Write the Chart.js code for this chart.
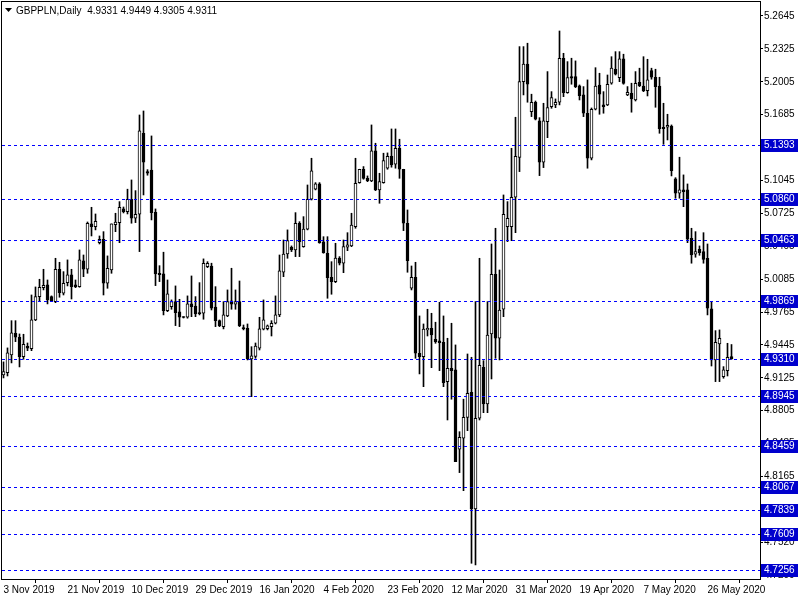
<!DOCTYPE html>
<html>
<head>
<meta charset="utf-8">
<script src="https://cdn.jsdelivr.net/npm/chart.js"></script>
<style>
  html, body { margin: 0; padding: 0; background: #fff; }
</style>
</head>
<body>
<canvas id="myChart" width="800" height="600"></canvas>
<script>
// GBPPLN daily candles, one entry per bar (index 0 = 3 Nov 2019)
var openP = [
  4.9153,4.9176,4.9348,4.9559,4.9520,4.9331,4.9432,4.9409,4.9688,4.9915,
  5.0002,5.0029,4.9915,4.9866,5.0181,4.9948,5.0051,5.0126,5.0029,5.0012,
  5.0262,5.0181,5.0622,5.0596,5.0440,5.0473,5.0045,5.0174,5.0615,5.0635,
  5.0768,5.0742,5.0862,5.0677,5.0716,5.1504,5.1131,5.1147,5.0736,5.0142,
  5.0136,4.9779,4.9817,4.9866,4.9766,4.9714,4.9714,4.9844,4.9824,4.9753,
  4.9753,5.0207,5.0213,4.9812,4.9681,4.9623,4.9727,4.9873,4.9841,4.9866,
  4.9613,4.9607,4.9309,4.9333,4.9413,4.9598,4.9603,4.9623,4.9656,4.9737,
  5.0152,5.0330,5.0395,5.0369,5.0629,5.0401,5.0570,5.0862,5.0960,5.1011,
  5.0447,5.0337,5.0103,5.0061,5.0291,5.0240,5.0395,5.0408,5.0596,5.1024,
  5.1154,5.1066,5.1040,5.1332,5.0953,5.1024,5.1164,5.1283,5.1203,5.1358,
  5.1154,5.0629,4.9996,5.0103,4.9364,4.9331,4.9591,4.9607,4.9500,4.9484,
  4.9471,4.9088,4.9218,4.9202,4.8430,4.8537,4.8741,4.8985,4.7849,4.8732,
  4.9228,4.8871,4.9552,5.0133,4.9510,4.9792,5.0596,5.0596,5.0882,5.1269,
  5.2006,5.2176,5.1714,5.1806,5.1624,5.1222,5.1617,5.1763,5.1780,5.1806,
  5.2234,5.1899,5.2055,5.2055,5.1965,5.1877,5.1699,5.1261,5.1738,5.1974,
  5.1780,5.1780,5.1991,5.2127,5.2045,5.2227,5.1877,5.1893,5.1828,5.2000,
  5.1964,5.1918,5.2113,5.2049,5.1964,5.1563,5.1563,5.1575,5.1060,5.0921,
  5.0953,5.0953,5.0483,5.0327,5.0376,5.0353,5.0288,4.9795,4.9299,4.9455,
  4.9136,4.9195,4.9331
];
var highP = [
  4.9280,4.9416,4.9681,4.9681,4.9552,4.9549,4.9464,4.9931,5.0009,5.0084,
  5.0181,5.0077,4.9922,5.0288,5.0249,5.0158,5.0272,5.0181,5.0077,5.0369,
  5.0320,5.0641,5.0784,5.0719,5.0505,5.0547,5.0311,5.0622,5.0726,5.0839,
  5.0787,5.0960,5.1050,5.0946,5.1682,5.1721,5.1150,5.1478,5.0768,5.0216,
  5.0347,5.0077,4.9883,5.0019,4.9889,4.9720,4.9922,5.0116,4.9915,5.0051,
  5.0282,5.0255,5.0240,5.0012,4.9688,4.9866,4.9980,5.0191,4.9980,5.0067,
  4.9639,4.9649,4.9428,4.9464,4.9714,4.9883,4.9639,4.9681,4.9922,5.0320,
  5.0466,5.0564,5.0408,5.0732,5.0644,5.0693,5.1001,5.1261,5.1024,5.1024,
  5.0498,5.0498,5.0255,5.0434,5.0304,5.0466,5.0537,5.0726,5.1261,5.1154,
  5.1180,5.1089,5.1585,5.1407,5.1115,5.1310,5.1313,5.1546,5.1546,5.1446,
  5.1154,5.0758,5.0213,5.0249,4.9727,4.9649,4.9792,4.9753,4.9666,4.9860,
  4.9727,4.9510,4.9656,4.9445,4.8601,4.8917,4.9357,4.9325,4.9866,5.0288,
  4.9292,4.9866,5.0427,5.0580,5.0174,5.0904,5.0839,5.1358,5.1660,5.2347,
  5.2347,5.2380,5.1884,5.1818,5.1656,5.1796,5.2104,5.1909,5.1838,5.2499,
  5.2282,5.2201,5.2234,5.2208,5.1974,5.1958,5.2023,5.1750,5.2142,5.2088,
  5.1909,5.2071,5.2249,5.2298,5.2298,5.2273,5.1958,5.1991,5.2104,5.2137,
  5.2249,5.2224,5.2137,5.2127,5.2049,5.1796,5.1689,5.1585,5.1072,5.1271,
  5.1099,5.1011,5.0580,5.0547,5.0408,5.0537,5.0427,4.9866,4.9584,4.9591,
  4.9234,4.9461,4.9449
];
var lowP = [
  4.9124,4.9143,4.9270,4.9477,4.9231,4.9306,4.9389,4.9389,4.9681,4.9866,
  4.9980,4.9844,4.9866,4.9856,4.9909,4.9931,5.0019,4.9892,5.0002,5.0006,
  5.0109,5.0142,5.0505,5.0564,5.0427,4.9931,4.9996,5.0142,5.0547,5.0440,
  5.0729,5.0719,5.0629,5.0635,5.0353,5.0904,5.1096,5.0661,5.0022,5.0061,
  4.9737,4.9769,4.9792,4.9633,4.9623,4.9707,4.9705,4.9720,4.9720,4.9737,
  4.9695,5.0197,4.9785,4.9623,4.9623,4.9601,4.9720,4.9792,4.9792,4.9623,
  4.9591,4.9299,4.8942,4.9315,4.9396,4.9591,4.9591,4.9532,4.9649,4.9720,
  5.0109,5.0288,5.0353,5.0304,5.0304,5.0395,5.0564,5.0855,5.0953,5.0434,
  5.0337,4.9899,4.9938,5.0051,5.0223,5.0148,5.0362,5.0401,5.0580,5.1018,
  5.1057,5.1033,5.1033,5.0946,5.0823,5.1018,5.1154,5.1174,5.1164,5.1066,
  5.0557,5.0152,4.9980,4.9315,4.9163,4.9039,4.9532,4.9224,4.9461,4.9195,
  4.9039,4.8715,4.8917,4.8310,4.8203,4.8027,4.8611,4.7321,4.7305,4.8715,
  4.8786,4.8786,4.9114,4.9315,4.9299,4.9720,5.0450,5.0459,5.0537,5.1131,
  5.1877,5.1806,5.1666,5.1634,5.1092,5.1170,5.1461,5.1747,5.1753,5.1780,
  5.1860,5.1893,5.1981,5.1948,5.1828,5.1666,5.1164,5.1245,5.1731,5.1689,
  5.1699,5.1773,5.1981,5.2071,5.2006,5.1981,5.1870,5.1709,5.1818,5.1958,
  5.1909,5.1867,5.2030,5.1757,5.1504,5.1397,5.1439,5.1089,5.0872,5.0872,
  5.0790,5.0440,5.0240,5.0298,5.0317,5.0240,4.9737,4.9240,4.9088,4.9088,
  4.9121,4.9143,4.9305
];
var closeP = [
  4.9185,4.9367,4.9562,4.9520,4.9331,4.9452,4.9413,4.9688,4.9915,5.0006,
  5.0026,4.9883,4.9873,5.0181,4.9954,5.0045,5.0126,5.0012,5.0009,5.0272,
  5.0181,5.0629,5.0596,5.0648,5.0473,5.0045,5.0191,5.0622,5.0641,5.0784,
  5.0742,5.0862,5.0677,5.0716,5.1527,5.1222,5.1115,5.0732,5.0136,5.0129,
  4.9779,4.9941,4.9866,4.9759,4.9714,4.9712,4.9844,4.9817,4.9746,4.9750,
  5.0240,5.0240,4.9802,4.9681,4.9633,4.9737,4.9866,4.9841,4.9866,4.9633,
  4.9601,4.9309,4.9338,4.9435,4.9601,4.9688,4.9630,4.9656,4.9737,5.0165,
  5.0330,5.0459,5.0369,5.0629,5.0450,5.0573,5.0862,5.1138,5.1011,5.0440,
  5.0343,5.0100,5.0061,5.0291,5.0240,5.0401,5.0418,5.0612,5.1018,5.1154,
  5.1066,5.1043,5.1332,5.0953,5.1033,5.1238,5.1279,5.1196,5.1358,5.1154,
  5.0629,5.0265,5.0103,4.9364,4.9331,4.9598,4.9607,4.9542,4.9477,4.9467,
  4.9078,4.9218,4.9195,4.8310,4.8547,4.8741,4.8975,4.7849,4.8732,4.9247,
  4.8871,4.9542,5.0133,4.9510,4.9785,5.0716,5.0677,5.0882,5.1279,5.2006,
  5.2176,5.1981,5.1806,5.1640,5.1222,5.1624,5.1753,5.1851,5.1806,5.2234,
  5.1899,5.2045,5.2039,5.1958,5.1870,5.1699,5.1261,5.1738,5.1964,5.1884,
  5.1763,5.1981,5.2137,5.2078,5.2227,5.1990,5.1903,5.1838,5.1991,5.1967,
  5.1916,5.2023,5.2049,5.1958,5.1549,5.1549,5.1582,5.1140,5.0921,5.0953,
  5.0936,5.0473,5.0320,5.0353,5.0343,5.0278,4.9802,4.9299,4.9471,4.9510,
  4.9202,4.9325,4.9311
];

// time axis labels (every 16th bar)
var dateIdx = [0,16,32,48,64,80,96,112,128,144,160,176];
var dateLabels = ["3 Nov 2019","21 Nov 2019","10 Dec 2019","29 Dec 2019","16 Jan 2020","4 Feb 2020",
                  "23 Feb 2020","12 Mar 2020","31 Mar 2020","19 Apr 2020","7 May 2020","26 May 2020"];

// price scale
var priceTicks = [5.2645,5.2325,5.2005,5.1685,5.1365,5.1045,5.0725,5.0405,5.0085,4.9765,
                  4.9445,4.9125,4.8805,4.8485,4.8165,4.7845,4.7525,4.7205];
var priceTickLabels = ["5.2645","5.2325","5.2005","5.1685","5.1365","5.1045","5.0725","5.0405","5.0085","4.9765",
                       "4.9445","4.9125","4.8805","4.8485","4.8165","4.7845","4.7520","4.7200"];

// horizontal levels
var levels = [5.1393,5.0860,5.0463,4.9869,4.9310,4.8945,4.8459,4.8067,4.7839,4.7609,4.7256];

var titleText = "GBPPLN,Daily  4.9331 4.9449 4.9305 4.9311";

var FONT = "Liberation Sans";
var LINE_BLUE = "#0000ff";
var LABEL_BLUE = "#0000cd";

var bodies = [];
var wicks = [];
for (var i = 0; i < openP.length; i++) {
  bodies.push({x: i, y: [openP[i], closeP[i]]});
  wicks.push({x: i, y: [lowP[i], highP[i]]});
}

var overlay = {
  id: "overlay",
  afterDatasetsDraw: function(chart) {
    var ctx = chart.ctx;
    var a = chart.chartArea;
    var ys = chart.scales.y;
    ctx.save();
    // level lines
    ctx.strokeStyle = LINE_BLUE;
    ctx.lineWidth = 1;
    ctx.setLineDash([3, 3]);
    levels.forEach(function(v) {
      var py = Math.round(ys.getPixelForValue(v)) + 0.5;
      ctx.beginPath();
      ctx.moveTo(a.left, py);
      ctx.lineTo(a.right + 2, py);
      ctx.stroke();
    });
    ctx.setLineDash([]);
    // frame
    ctx.strokeStyle = "#000";
    ctx.strokeRect(a.left - 0.5, a.top - 0.5, a.right - a.left + 1, a.bottom - a.top + 1);
    ctx.restore();
  },
  afterDraw: function(chart) {
    var ctx = chart.ctx;
    var a = chart.chartArea;
    var ys = chart.scales.y;
    ctx.save();
    ctx.font = "10px '" + FONT + "'";
    ctx.textBaseline = "middle";
    levels.forEach(function(v) {
      var py = Math.round(ys.getPixelForValue(v));
      ctx.fillStyle = LABEL_BLUE;
      ctx.fillRect(a.right + 1, py - 6, 37, 13);
      ctx.fillStyle = "#fff";
      ctx.textAlign = "left";
      ctx.fillText(v.toFixed(4), a.right + 4, py + 0.5);
    });
    // title
    ctx.fillStyle = "#000";
    ctx.beginPath();
    ctx.moveTo(5, 8);
    ctx.lineTo(12, 8);
    ctx.lineTo(8.5, 12);
    ctx.closePath();
    ctx.fill();
    ctx.fillText(titleText, 16, 11);
    ctx.restore();
  }
};

new Chart("myChart", {
  type: "bar",
  data: {
    datasets: [{
      data: bodies,
      backgroundColor: function(c) { return closeP[c.dataIndex] >= openP[c.dataIndex] ? "#ffffff" : "#000000"; },
      borderColor: "#000000",
      borderWidth: 1,
      borderSkipped: false,
      barThickness: 3,
      minBarLength: 1,
      grouped: false
    }, {
      data: wicks,
      backgroundColor: "#000000",
      borderWidth: 0,
      barThickness: 1,
      grouped: false
    }]
  },
  options: {
    responsive: false,
    animation: false,
    events: [],
    layout: {padding: {left: 2, top: 2, right: 0, bottom: 0}},
    plugins: {legend: {display: false}, tooltip: {enabled: false}, title: {display: false}},
    scales: {
      x: {
        type: "linear",
        min: -0.375,
        max: 189.125,
        offset: false,
        bounds: "data",
        border: {display: false},
        grid: {display: true, drawOnChartArea: false, drawTicks: true, tickLength: 4, color: "#000"},
        ticks: {
          autoSkip: false, maxRotation: 0, align: "start", padding: 1,
          color: "#000", font: {family: FONT, size: 10},
          callback: function(v) { var k = dateIdx.indexOf(v); return k < 0 ? "" : dateLabels[k]; }
        },
        afterBuildTicks: function(s) { s.ticks = dateIdx.map(function(v) { return {value: v}; }); },
        afterFit: function(s) { s.height = 21; s.paddingLeft = 0; s.paddingRight = 0; }
      },
      y: {
        type: "linear",
        position: "right",
        min: 4.7168,
        max: 5.2781,
        bounds: "data",
        border: {display: false},
        grid: {display: true, drawOnChartArea: false, drawTicks: true, tickLength: 3, color: "#000"},
        ticks: {
          padding: 1, color: "#000", font: {family: FONT, size: 10},
          callback: function(v, idx) { return priceTickLabels[idx]; }
        },
        afterBuildTicks: function(s) { s.ticks = priceTicks.map(function(v) { return {value: v}; }); },
        afterFit: function(s) { s.width = 40; s.paddingTop = 0; s.paddingBottom = 0; }
      }
    }
  },
  plugins: [overlay]
});
</script>
</body>
</html>
